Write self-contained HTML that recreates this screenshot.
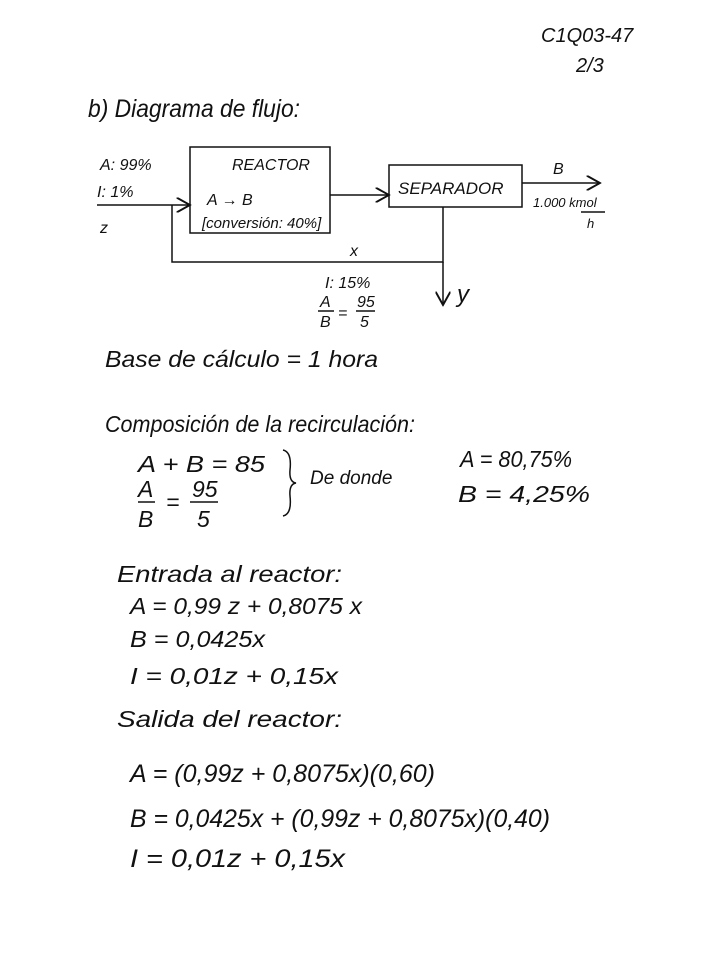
<!DOCTYPE html>
<html><head><meta charset="utf-8"><style>
html,body{margin:0;padding:0;background:#fff;}
svg{display:block}
text{font-family:"Liberation Sans",sans-serif;font-style:italic;fill:#111;}
</style></head><body>
<svg width="725" height="974" viewBox="0 0 725 974" xmlns="http://www.w3.org/2000/svg">
<defs><marker id="ar" markerWidth="10" markerHeight="10" refX="9" refY="5" orient="auto"><path d="M0,0 L9,5 L0,10" fill="none" stroke="#111" stroke-width="1.3"/></marker></defs>
<g font-size="20">
<text x="541" y="42">C1Q03-47</text>
<text x="576" y="72">2/3</text>
<text x="88" y="117" font-size="25" textLength="212" lengthAdjust="spacingAndGlyphs">b) Diagrama de flujo:</text>
</g>
<g stroke="#111" stroke-width="1.5" fill="none">
<rect x="190" y="147" width="140" height="86"/>
<rect x="389" y="165" width="133" height="42"/>
<line x1="97" y1="205" x2="190" y2="205" marker-end="url(#ar)"/>
<line x1="330" y1="195" x2="389" y2="195" marker-end="url(#ar)"/>
<line x1="522" y1="183" x2="600" y2="183" marker-end="url(#ar)"/>
<polyline points="443,207 443,262 172,262 172,205"/>
<line x1="443" y1="262" x2="443" y2="305" marker-end="url(#ar)"/>
<line x1="318" y1="311" x2="334" y2="311"/>
<line x1="356" y1="311" x2="375" y2="311"/>
<line x1="581" y1="212" x2="605" y2="212"/>
<path d="M283,450 Q292,452 290,470 Q289,482 296,483 Q289,484 290,496 Q292,514 283,516"/>
<line x1="138" y1="502" x2="155" y2="502"/>
<line x1="190" y1="502" x2="218" y2="502"/>
</g>
<g font-size="16">
<text x="232" y="170">REACTOR</text>
<text x="207" y="205">A → B</text>
<text x="202" y="228" font-size="15">[conversión: 40%]</text>
<text x="398" y="194" font-size="17">SEPARADOR</text>
<text x="100" y="170">A: 99%</text>
<text x="97" y="197">I: 1%</text>
<text x="100" y="233">z</text>
<text x="350" y="256">x</text>
<text x="325" y="288">I: 15%</text>
<text x="320" y="307">A</text><text x="320" y="327">B</text>
<text x="338" y="318">=</text>
<text x="357" y="307">95</text><text x="360" y="327">5</text>
<text x="457" y="302" font-size="24">y</text>
<text x="553" y="174">B</text>
<text x="533" y="207" font-size="13">1.000 kmol</text>
<text x="587" y="228" font-size="13">h</text>
</g>
<g font-size="23">
<text x="105" y="367" textLength="273" lengthAdjust="spacingAndGlyphs">Base de cálculo = 1 hora</text>
<text x="105" y="432" textLength="310" lengthAdjust="spacingAndGlyphs">Composición de la recirculación:</text>
<text x="138" y="472" textLength="127" lengthAdjust="spacingAndGlyphs">A + B = 85</text>
<text x="138" y="497">A</text><text x="138" y="527">B</text>
<text x="166" y="510">=</text>
<text x="192" y="497">95</text><text x="197" y="527">5</text>
<text x="310" y="484" font-size="19">De donde</text>
<text x="460" y="467" textLength="112" lengthAdjust="spacingAndGlyphs">A = 80,75%</text>
<text x="458" y="502" textLength="132" lengthAdjust="spacingAndGlyphs">B = 4,25%</text>
<text x="117" y="582" textLength="225" lengthAdjust="spacingAndGlyphs">Entrada al reactor:</text>
<text x="130" y="614" textLength="232" lengthAdjust="spacingAndGlyphs">A =  0,99 z  + 0,8075 x</text>
<text x="130" y="647" textLength="135" lengthAdjust="spacingAndGlyphs">B =  0,0425x</text>
<text x="130" y="684" textLength="208" lengthAdjust="spacingAndGlyphs">I  =  0,01z  + 0,15x</text>
<text x="117" y="727" textLength="225" lengthAdjust="spacingAndGlyphs">Salida del reactor:</text>
<text x="130" y="782" font-size="25" textLength="305" lengthAdjust="spacingAndGlyphs">A = (0,99z + 0,8075x)(0,60)</text>
<text x="130" y="827" font-size="25" textLength="420" lengthAdjust="spacingAndGlyphs">B =  0,0425x  + (0,99z + 0,8075x)(0,40)</text>
<text x="130" y="867" font-size="25" textLength="215" lengthAdjust="spacingAndGlyphs">I  =  0,01z  + 0,15x</text>
</g>
</svg>
</body></html>
